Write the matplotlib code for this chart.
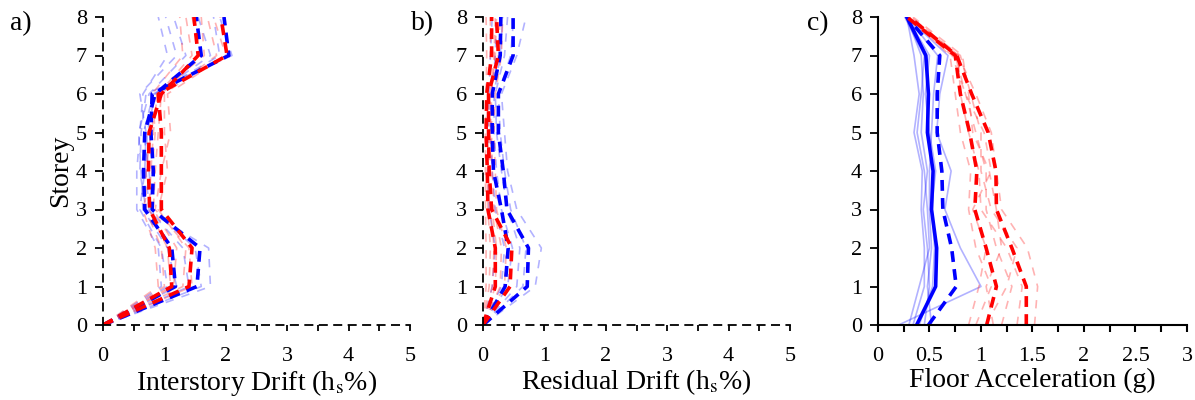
import numpy as np
import matplotlib
matplotlib.use("Agg")
import matplotlib.pyplot as plt
import matplotlib.ticker as mtick

plt.rcParams.update({'font.family': 'Liberation Serif', 'mathtext.fontset': 'stix',
                     'font.size': 16})

storey = [0, 1, 2, 3, 4, 5, 6, 7, 8]

# interstory drift (hs%)
drift_blue_rec = [
    [0, 1.75, 1.72, 0.70, 0.60, 0.62, 0.70, 2.10, 1.90],
    [0, 0.95, 0.90, 0.55, 0.55, 0.60, 0.65, 1.05, 0.90],
    [0, 1.20, 1.05, 0.65, 0.62, 0.58, 0.75, 1.35, 1.15],
    [0, 1.40, 1.30, 0.75, 0.70, 0.72, 0.85, 1.75, 1.55],
    [0, 1.05, 0.95, 0.60, 0.68, 0.70, 0.60, 1.20, 1.02],
    [0, 1.60, 1.50, 0.80, 0.75, 0.66, 0.82, 1.90, 1.80],
]
drift_red_rec = [
    [0, 1.30, 1.35, 0.90, 1.05, 1.00, 1.00, 1.85, 1.70],
    [0, 1.00, 0.95, 0.70, 0.70, 0.78, 0.90, 1.45, 1.35],
    [0, 1.15, 1.20, 0.82, 0.85, 0.90, 0.95, 1.60, 1.45],
    [0, 0.90, 0.85, 0.65, 0.80, 0.85, 0.80, 1.30, 1.25],
    [0, 1.45, 1.40, 0.85, 0.95, 1.10, 1.05, 2.00, 1.80],
    [0, 1.10, 1.05, 0.75, 0.78, 0.82, 0.88, 1.65, 1.60],
]
drift_blue_1 = [0, 1.18, 1.12, 0.68, 0.66, 0.68, 0.85, 1.60, 1.52]
drift_blue_2 = [0, 1.53, 1.58, 0.80, 0.82, 0.78, 0.80, 2.05, 1.97]
drift_red_1 = [0, 1.12, 1.08, 0.76, 0.74, 0.75, 0.95, 1.55, 1.48]
drift_red_2 = [0, 1.40, 1.45, 0.95, 0.95, 0.95, 0.90, 2.02, 1.92]

# residual drift (hs%)
resid_blue_rec = [
    [0, 0.85, 0.95, 0.55, 0.40, 0.35, 0.30, 0.55, 0.70],
    [0, 0.30, 0.35, 0.20, 0.15, 0.12, 0.15, 0.20, 0.22],
    [0, 0.55, 0.60, 0.40, 0.30, 0.22, 0.20, 0.35, 0.40],
    [0, 0.15, 0.20, 0.10, 0.08, 0.08, 0.10, 0.12, 0.15],
    [0, 0.65, 0.70, 0.45, 0.35, 0.28, 0.25, 0.45, 0.50],
    [0, 0.40, 0.48, 0.30, 0.22, 0.18, 0.18, 0.28, 0.32],
]
resid_red_rec = [
    [0, 0.05, 0.05, 0.04, 0.04, 0.04, 0.05, 0.06, 0.05],
    [0, 0.15, 0.18, 0.12, 0.10, 0.10, 0.12, 0.18, 0.20],
    [0, 0.28, 0.30, 0.18, 0.15, 0.14, 0.15, 0.25, 0.28],
    [0, 0.10, 0.12, 0.08, 0.07, 0.08, 0.08, 0.12, 0.12],
    [0, 0.35, 0.38, 0.22, 0.20, 0.18, 0.20, 0.30, 0.32],
    [0, 0.20, 0.22, 0.15, 0.12, 0.12, 0.14, 0.20, 0.22],
]
resid_blue_1 = [0, 0.36, 0.41, 0.30, 0.17, 0.15, 0.15, 0.28, 0.29]
resid_blue_2 = [0, 0.72, 0.74, 0.39, 0.33, 0.25, 0.25, 0.49, 0.49]
resid_red_1 = [0, 0.20, 0.20, 0.08, 0.07, 0.05, 0.06, 0.14, 0.14]
resid_red_2 = [0, 0.44, 0.47, 0.14, 0.10, 0.09, 0.09, 0.25, 0.22]

# floor acceleration (g)
acc_blue_rec = [
    [0.20, 1.00, 0.80, 0.65, 0.71, 0.57, 0.60, 0.68, 0.28],
    [0.34, 0.45, 0.45, 0.42, 0.43, 0.35, 0.40, 0.35, 0.28],
    [0.45, 0.50, 0.48, 0.44, 0.48, 0.42, 0.44, 0.42, 0.28],
    [0.52, 0.48, 0.52, 0.50, 0.50, 0.52, 0.54, 0.58, 0.28],
    [0.40, 0.53, 0.55, 0.52, 0.56, 0.50, 0.46, 0.50, 0.28],
    [0.30, 0.40, 0.50, 0.48, 0.45, 0.38, 0.42, 0.45, 0.26],
]
acc_red_rec = [
    [0.95, 1.10, 0.95, 0.88, 0.90, 0.80, 0.75, 0.70, 0.30],
    [1.20, 1.30, 1.15, 1.05, 1.05, 0.95, 0.85, 0.75, 0.30],
    [1.52, 1.55, 1.45, 1.20, 1.15, 1.10, 0.95, 0.78, 0.32],
    [1.05, 1.25, 1.35, 1.10, 1.00, 1.00, 0.90, 0.80, 0.30],
    [0.88, 0.98, 1.05, 0.92, 1.10, 1.03, 0.85, 0.72, 0.28],
    [1.35, 1.40, 1.25, 1.00, 0.98, 0.88, 0.80, 0.78, 0.32],
    [1.12, 1.05, 1.20, 1.15, 1.08, 0.92, 0.88, 0.82, 0.34],
]
acc_blue_1 = [0.375, 0.56, 0.57, 0.52, 0.535, 0.48, 0.49, 0.465, 0.28]
acc_blue_2 = [0.49, 0.76, 0.715, 0.63, 0.62, 0.575, 0.575, 0.60, 0.28]
acc_red_1 = [1.055, 1.15, 1.05, 0.94, 0.96, 0.89, 0.80, 0.75, 0.28]
acc_red_2 = [1.44, 1.44, 1.30, 1.15, 1.145, 1.07, 0.91, 0.765, 0.30]

thin_dash = (0, (5, 5))
thick_dash = (0, (3, 2))

fig = plt.figure(figsize=(11.95, 4.0), dpi=100)
ax_a = fig.add_axes([0.0862, 0.1875, 0.2569, 0.77])
ax_b = fig.add_axes([0.4042, 0.1875, 0.2569, 0.77])
ax_c = fig.add_axes([0.7347, 0.1875, 0.2586, 0.77])


def draw_panel(ax, blue_rec, red_rec, b1, b2, r1, r2, blue_solid):
    for rec in blue_rec:
        ax.plot(rec, storey, color='blue', alpha=0.3, lw=1.2,
                linestyle='-' if blue_solid else thin_dash)
    for rec in red_rec:
        ax.plot(rec, storey, color='red', alpha=0.3, lw=1.2, linestyle=thin_dash)
    ax.plot(b1, storey, color='blue', lw=2.6, linestyle='-' if blue_solid else thick_dash)
    ax.plot(b2, storey, color='blue', lw=2.6, linestyle=thick_dash)
    ax.plot(r1, storey, color='red', lw=2.6, linestyle=thick_dash)
    ax.plot(r2, storey, color='red', lw=2.6, linestyle=thick_dash)
    for s in ['top', 'right']:
        ax.spines[s].set_visible(False)
    ax.set_ylim(0, 8)
    ax.set_yticks(range(0, 9))
    ax.tick_params(axis='y', direction='out', length=5.5, width=1.3, labelsize=16, pad=6)
    ax.tick_params(axis='x', which='both', direction='out', length=4, width=1.3,
                   labelsize=16, pad=12)


draw_panel(ax_a, drift_blue_rec, drift_red_rec, drift_blue_1, drift_blue_2,
           drift_red_1, drift_red_2, False)
draw_panel(ax_b, resid_blue_rec, resid_red_rec, resid_blue_1, resid_blue_2,
           resid_red_1, resid_red_2, False)
draw_panel(ax_c, acc_blue_rec, acc_red_rec, acc_blue_1, acc_blue_2,
           acc_red_1, acc_red_2, True)

for ax in (ax_a, ax_b):
    ax.set_xlim(0, 5)
    ax.set_xticks(range(0, 6))
    ax.xaxis.set_minor_locator(mtick.MultipleLocator(0.5))
    for s in ['left', 'bottom']:
        ax.spines[s].set_linestyle((0, (4, 4)))
        ax.spines[s].set_linewidth(1.3)

ax_c.set_xlim(0, 3)
ax_c.set_xticks([0, 0.5, 1, 1.5, 2, 2.5, 3])
ax_c.set_xticklabels(['0', '0.5', '1', '1.5', '2', '2.5', '3'])
ax_c.xaxis.set_minor_locator(mtick.MultipleLocator(0.25))
ax_c.tick_params(axis='x', which='both', length=5, width=1.5, pad=11)
for s in ['left', 'bottom']:
    ax_c.spines[s].set_linewidth(1.5)

ax_a.set_xlabel(r'Interstory Drift (h$_\mathrm{s}$%)', fontsize=20, labelpad=1)
ax_b.set_xlabel(r'Residual Drift (h$_\mathrm{s}$%)', fontsize=20, labelpad=1)
ax_c.set_xlabel('Floor Acceleration (g)', fontsize=20, labelpad=1)
ax_a.set_ylabel('Storey', fontsize=20, labelpad=2)

fig.text(0.008, 0.94, 'a)', fontsize=20, va='center')
fig.text(0.344, 0.94, 'b)', fontsize=20, va='center')
fig.text(0.675, 0.94, 'c)', fontsize=20, va='center')

fig.savefig('out.png', dpi=100)
